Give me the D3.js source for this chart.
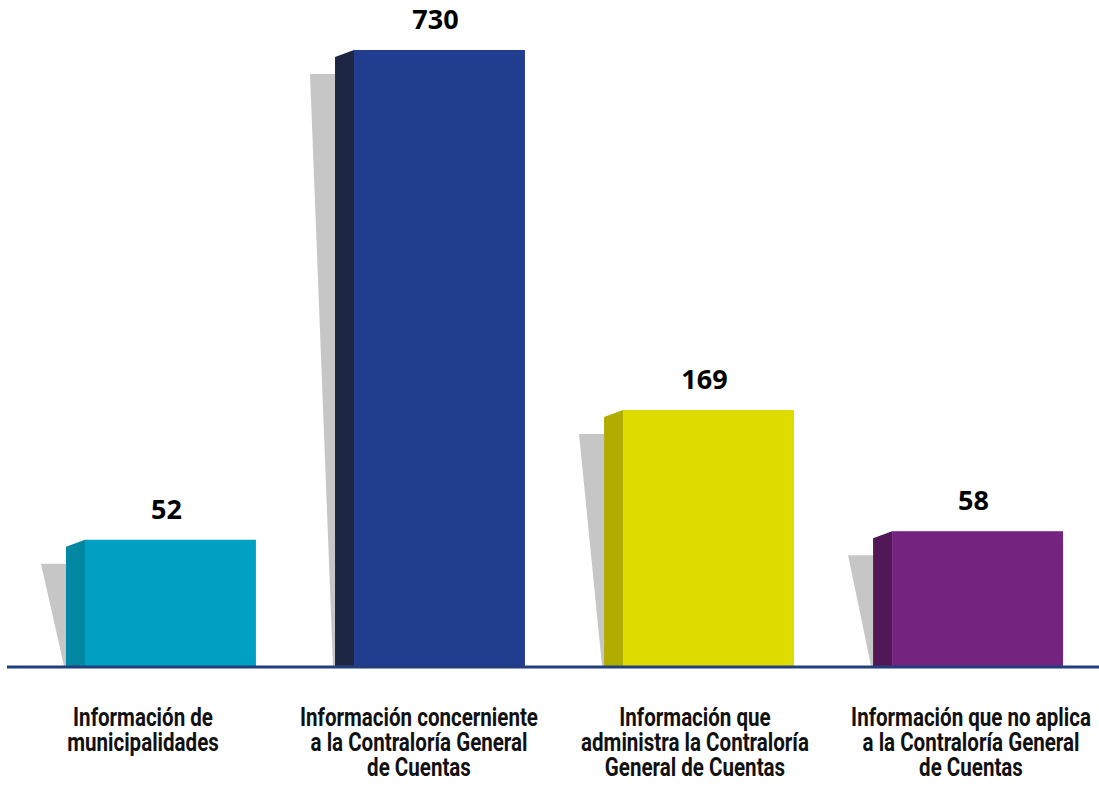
<!DOCTYPE html>
<html>
<head>
<meta charset="utf-8">
<script src="https://cdn.jsdelivr.net/npm/d3@7"></script>
<style>
  body { margin: 0; background: #fff; }
  .value { font-family: "Open Sans", sans-serif; font-weight: 700; font-size: 27px; fill: #000; }
  .cat { font-family: Roboto, "DejaVu Sans", sans-serif; font-weight: 700; font-size: 25px; fill: #111; }
</style>
</head>
<body>
<svg id="chart" width="1099" height="790"></svg>
<script>
'use strict';

// Data
const labelLines = [
  ['Información de', 'municipalidades'],
  ['Información concerniente', 'a la Contraloría General', 'de Cuentas'],
  ['Información que', 'administra la Contraloría', 'General de Cuentas'],
  ['Información que no aplica', 'a la Contraloría General', 'de Cuentas']
];
const categories = labelLines.map(l => l.join(' '));
const values = [52, 730, 169, 58];
const frontColors = ['#00a0c2', '#213d8f', '#dedc00', '#74237f'];
const sideColors = ['#0088a3', '#1d2744', '#b0ad00', '#511757'];

const data = categories.map((c, i) => ({
  category: c,
  lines: labelLines[i],
  value: values[i],
  front: frontColors[i],
  side: sideColors[i]
}));

const svg = d3.select('#chart');
const baseY = 666;
const sideW = 19;

// Bars are not drawn linearly in the original; a power scale approximates it.
const y = d3.scalePow().exponent(0.6).domain([0, 730]).range([baseY, 50]);
const x = d3.scaleBand().domain(categories).range([66, 1063]).paddingInner(0.294).paddingOuter(0);
const xLabel = d3.scalePoint().domain(categories).range([143, 971]);

const g = svg.append('g');

const bars = g.selectAll('g.bar')
  .data(data)
  .join('g')
  .classed('bar', true);

// Drop shadow behind the bar
bars.append('path')
  .attr('fill', '#c6c6c6')
  .attr('d', d => {
    const x0 = x(d.category);
    const top = y(d.value) + 24;
    return `M${x0 - 25},${top}L${x0},${top}L${x0},${baseY}L${x0 - 2},${baseY}Z`;
  });

// Side face
bars.append('path')
  .attr('fill', d => d.side)
  .attr('d', d => {
    const x0 = x(d.category);
    const top = y(d.value);
    return `M${x0},${top + 7}L${x0 + sideW},${top}L${x0 + sideW},${baseY}L${x0},${baseY}Z`;
  });

// Front face
bars.append('rect')
  .attr('fill', d => d.front)
  .attr('x', d => x(d.category) + sideW)
  .attr('y', d => y(d.value))
  .attr('width', x.bandwidth() - sideW)
  .attr('height', d => baseY - y(d.value));

// Value labels
bars.append('text')
  .attr('class', 'value')
  .attr('text-anchor', 'middle')
  .attr('x', d => x(d.category) + sideW + (x.bandwidth() - sideW) / 2 - 4)
  .attr('y', d => y(d.value) - 21)
  .text(d => d.value);

// Baseline
g.append('line')
  .attr('x1', 7).attr('x2', 1099)
  .attr('y1', baseY + 1).attr('y2', baseY + 1)
  .attr('stroke', '#233e7d')
  .attr('stroke-width', 3);

// Category labels (original uses a condensed face, so squeeze horizontally)
const labels = g.selectAll('text.cat')
  .data(data)
  .join('text')
  .attr('class', 'cat')
  .attr('text-anchor', 'middle');

labels.selectAll('tspan')
  .data(d => d.lines)
  .join('tspan')
  .attr('x', 0)
  .attr('y', (d, i) => i * 25)
  .text(d => d);

const refSpan = labels.selectAll('tspan').filter(d => d === 'Información concerniente').node();
const squeeze = refSpan ? 238 / refSpan.getComputedTextLength() : 0.8;
labels.attr('transform', d => `translate(${xLabel(d.category)},726) scale(${squeeze},1)`);
</script>
</body>
</html>
